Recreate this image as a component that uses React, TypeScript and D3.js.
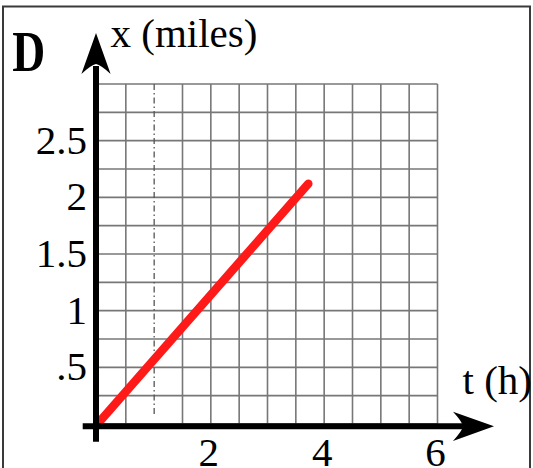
import React from "react";
import * as d3 from "d3";

// ---- data ----
const tDomain = [0, 6];
const xDomain = [0, 3];
const gridT = [0, 0.5, 1.5, 2, 2.5, 3, 3.5, 4, 4.5, 5, 5.5, 6];
const dashedT = [1];
const gridX = [0, 0.25, 0.5, 0.75, 1, 1.25, 1.5, 1.75, 2, 2.25, 2.5, 2.75, 3];
const tTickValues = [2, 4, 6];
const tTickLabels = ["2", "4", "6"];
const xTickValues = [0.5, 1, 1.5, 2, 2.5];
const xTickLabels = [".5", "1", "1.5", "2", "2.5"];
const lineT = [0, 3.72];
const lineX = [0, 2.12];

const W = 533;
const H = 468;
const FONT = "'Liberation Serif', 'Times New Roman', serif";

export default function App() {
  const xs = d3.scaleLinear().domain(tDomain).range([97.5, 437.5]);
  const ys = d3.scaleLinear().domain(xDomain).range([424, 84]);

  const ax = xs(0) - 1.5; // y-axis shaft x
  const ay = ys(0) + 2.3; // x-axis shaft y

  const linePts: [number, number][] = lineT.map((t, i) => [t, lineX[i]]);
  const lineGen = d3
    .line<[number, number]>()
    .x((d) => xs(d[0]))
    .y((d) => ys(d[1]));

  const yTip = 33;
  const xTip = 494;

  return (
    <svg
      width={W}
      height={H}
      style={{ position: "absolute", left: 0, top: 0, background: "#fff" }}
    >
      <rect x={0} y={0} width={W} height={H} fill="#fff" />
      <rect
        x={3}
        y={6.5}
        width={527}
        height={480}
        fill="none"
        stroke="#3a3a3a"
        strokeWidth={2}
      />

      {/* grid */}
      <g stroke="#777" strokeWidth={1.6} fill="none">
        {gridT.map((t) => (
          <line key={"v" + t} x1={xs(t)} x2={xs(t)} y1={ys(3)} y2={ys(0)} />
        ))}
        {gridX.map((v) => (
          <line key={"h" + v} x1={xs(0)} x2={xs(6)} y1={ys(v)} y2={ys(v)} />
        ))}
      </g>
      {dashedT.map((t) => (
        <line
          key={"d" + t}
          x1={xs(t)}
          x2={xs(t)}
          y1={ys(3)}
          y2={415}
          stroke="#555"
          strokeWidth={1.3}
          strokeDasharray="6,3,1.5,3"
        />
      ))}

      {/* red line */}
      <path
        d={lineGen(linePts) || ""}
        stroke="#ff1a1a"
        strokeWidth={8.5}
        strokeLinecap="round"
        fill="none"
      />

      {/* axes */}
      <line x1={ax} x2={ax} y1={441.7} y2={66} stroke="#000" strokeWidth={6} />
      <line x1={82.7} x2={466} y1={ay} y2={ay} stroke="#000" strokeWidth={6} />
      <path
        d={`M ${ax} ${yTip} L ${ax + 14.6} ${yTip + 41} Q ${ax + 5} ${yTip + 32} ${ax} ${yTip + 31} Q ${ax - 5} ${yTip + 32} ${ax - 14.6} ${yTip + 41} Z`}
        fill="#000"
      />
      <path
        d={`M ${xTip} ${ay} L ${xTip - 41} ${ay - 14.6} Q ${xTip - 32} ${ay - 5} ${xTip - 31} ${ay} Q ${xTip - 32} ${ay + 5} ${xTip - 41} ${ay + 14.6} Z`}
        fill="#000"
      />

      {/* tick labels */}
      <g fontFamily={FONT} fontSize={41} fill="#000">
        {xTickValues.map((v, i) => (
          <text key={"yl" + v} x={87} y={ys(v) + 13} textAnchor="end">
            {xTickLabels[i]}
          </text>
        ))}
        {tTickValues.map((v, i) => (
          <text key={"xl" + v} x={xs(v) - 2} y={466} textAnchor="middle">
            {tTickLabels[i]}
          </text>
        ))}
        <text x={110.5} y={47}>
          x (miles)
        </text>
        <text x={462.5} y={394}>
          t (h)
        </text>
      </g>

      <text
        x={12.3}
        y={71}
        fontFamily={FONT}
        fontWeight="bold"
        fontSize={56}
        textLength={33}
        lengthAdjust="spacingAndGlyphs"
        fill="#000"
      >
        D
      </text>
    </svg>
  );
}
